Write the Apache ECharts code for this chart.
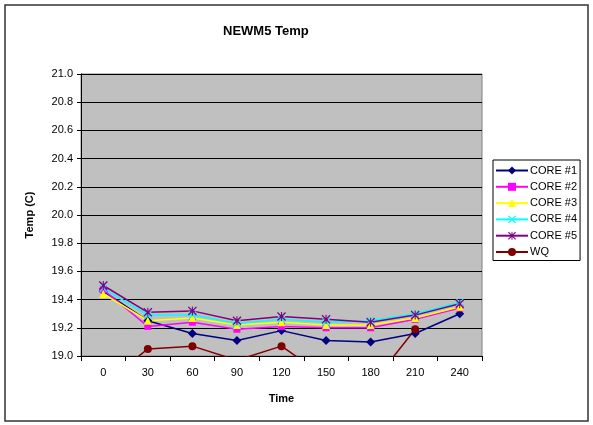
<!DOCTYPE html>
<html>
<head>
<meta charset="utf-8">
<script src="https://cdn.jsdelivr.net/npm/echarts@6/dist/echarts.min.js"></script>
<style>
    html, body { margin: 0; padding: 0; background: #fff; }
    #chart { width: 593px; height: 425px; }
</style>
</head>
<body>
<div id="chart"></div>
<script>
const times = ['0', '30', '60', '90', '120', '150', '180', '210', '240'];

const core1 = [19.46, 19.25, 19.16, 19.11, 19.18, 19.11, 19.10, 19.16, 19.30];
const core2 = [19.47, 19.21, 19.24, 19.19, 19.21, 19.20, 19.20, 19.26, 19.34];
const core3 = [19.44, 19.25, 19.27, 19.22, 19.24, 19.22, 19.22, 19.27, 19.35];
const core4 = [19.48, 19.29, 19.29, 19.23, 19.26, 19.24, 19.25, 19.30, 19.38];
const core5 = [19.50, 19.31, 19.32, 19.25, 19.28, 19.26, 19.24, 19.29, 19.37];
const wq = [18.80, 19.05, 19.07, 18.97, 19.07, 18.85, 18.79, 19.19, null];

const CROSS = 'path://M0,1 L1,0 L5,4 L9,0 L10,1 L6,5 L10,9 L9,10 L5,6 L1,10 L0,9 L4,5 Z';
const STAR = CROSS + ' M4.4,0 L5.6,0 L5.6,10 L4.4,10 Z';

const font = 'Liberation Sans, Arial, sans-serif';

function makeSeries(name, data, color, symbol, size) {
    return {
        name,
        type: 'line',
        data,
        symbol,
        symbolSize: size,
        showAllSymbol: true,
        clip: true,
        connectNulls: false,
        lineStyle: { color, width: 1.5 },
        itemStyle: { color, borderWidth: 0 },
        emphasis: { disabled: true },
        animation: false
    };
}

const chart = echarts.init(document.getElementById('chart'), null, { renderer: 'canvas' });

chart.setOption({
    backgroundColor: '#fff',
    animation: false,
    title: {
        text: 'NEWM5 Temp',
        left: 223,
        top: 25,
        padding: 0,
        textStyle: { fontFamily: font, fontSize: 13, fontWeight: 'bold', color: '#000' }
    },
    graphic: [{
        type: 'rect',
        shape: { x: 5, y: 5, width: 583, height: 416 },
        style: { fill: 'none', stroke: '#333', lineWidth: 1.5 },
        silent: true
    }],
    legend: {
        orient: 'vertical',
        left: 493,
        top: 160,
        padding: [5, 3, 3, 2],
        itemWidth: 32,
        itemHeight: 10,
        itemGap: 5.3,
        borderColor: '#000',
        borderWidth: 1,
        backgroundColor: '#fff',
        textStyle: { fontFamily: font, fontSize: 11, color: '#000', padding: [0, 0, 0, -3] },
        data: ['CORE #1', 'CORE #2', 'CORE #3', 'CORE #4', 'CORE #5', 'WQ']
    },
    grid: {
        left: 81,
        top: 74,
        width: 401,
        height: 282,
        containLabel: false,
        outerBoundsMode: 'none',
        show: true,
        backgroundColor: '#C0C0C0',
        borderColor: '#808080',
        borderWidth: 1
    },
    xAxis: {
        type: 'category',
        data: times,
        boundaryGap: true,
        name: 'Time',
        nameLocation: 'middle',
        nameGap: 37,
        nameTextStyle: { fontFamily: font, fontSize: 11, fontWeight: 'bold', color: '#000' },
        axisLine: { lineStyle: { color: '#000', width: 1 } },
        axisTick: { show: true, length: 5, lineStyle: { color: '#000' } },
        axisLabel: { fontFamily: font, fontSize: 11, color: '#000', margin: 11 },
        splitLine: { show: false }
    },
    yAxis: {
        type: 'value',
        min: 19,
        max: 21,
        interval: 0.2,
        name: 'Temp (C)',
        nameLocation: 'middle',
        nameGap: 46,
        nameRotate: 90,
        nameTextStyle: { fontFamily: font, fontSize: 11, fontWeight: 'bold', color: '#000' },
        axisLine: { show: true, lineStyle: { color: '#000', width: 1 } },
        axisTick: { show: true, length: 4, lineStyle: { color: '#000' } },
        axisLabel: {
            fontFamily: font, fontSize: 11, color: '#000', margin: 8,
            formatter: v => v.toFixed(1)
        },
        splitLine: { show: true, lineStyle: { color: '#000', width: 1 } }
    },
    series: [
        makeSeries('CORE #1', core1, '#000080', 'diamond', 9),
        makeSeries('CORE #2', core2, '#FF00FF', 'rect', 7),
        makeSeries('CORE #3', core3, '#FFFF00', 'triangle', 8),
        makeSeries('CORE #4', core4, '#00FFFF', CROSS, 8),
        makeSeries('CORE #5', core5, '#800080', STAR, 9),
        makeSeries('WQ', wq, '#800000', 'circle', 8)
    ]
});
</script>
</body>
</html>
